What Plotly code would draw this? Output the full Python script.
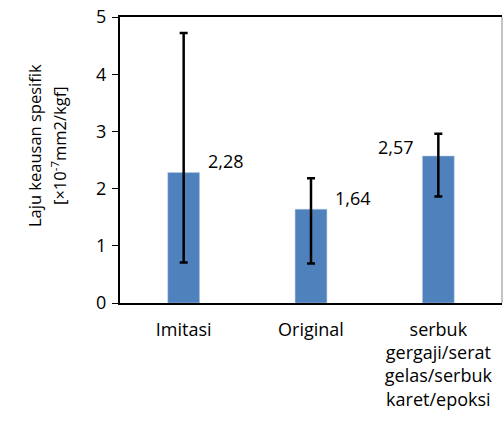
import plotly.graph_objects as go

categories = ["Imitasi", "Original", "serbuk<br>gergaji/serat<br>gelas/serbuk<br>karet/epoksi"]
values = [2.28, 1.64, 2.57]
err_plus = [2.44, 0.54, 0.39]
err_minus = [1.57, 0.95, 0.71]
value_labels = ["2,28", "1,64", "2,57"]
label_xshift = [42, 42, -42]
label_yshift = [12, 11, 9]
y_ticks = [0, 1, 2, 3, 4, 5]

FONT = "Open Sans"
fig = go.Figure()
fig.add_trace(go.Bar(
    x=categories, y=values,
    marker=dict(color="#4F81BD", line=dict(color="#B9CDE5", width=0.5)),
    width=0.25,
    error_y=dict(type="data", symmetric=False, array=err_plus, arrayminus=err_minus,
                 color="black", thickness=2.5, width=4),
    showlegend=False,
))

for c, v, t, xs, ys in zip(categories, values, value_labels, label_xshift, label_yshift):
    fig.add_annotation(x=c, y=v, text=t, showarrow=False, xshift=xs, yshift=ys,
                       font=dict(family=FONT, size=18, color="#000"))

fig.add_annotation(xref="paper", yref="paper", x=0, y=0.5, xshift=-86, yshift=14,
                   xanchor="center", yanchor="middle",
                   text="Laju keausan spesifik", textangle=-90, showarrow=False,
                   font=dict(family=FONT, size=16.5, color="#000"))
fig.add_annotation(xref="paper", yref="paper", x=0, y=0.5, xshift=-61, yshift=14,
                   xanchor="center", yanchor="middle",
                   text="[×10<sup>-7</sup>mm2/kgf]", textangle=-90, showarrow=False,
                   font=dict(family=FONT, size=16.5, color="#000"))

fig.add_shape(type="line", xref="paper", yref="paper", x0=1, x1=1, y0=0, y1=1,
              line=dict(color="#888", width=1))

fig.update_layout(
    width=503, height=432,
    margin=dict(l=120, r=1, t=17, b=129, autoexpand=False),
    paper_bgcolor="white", plot_bgcolor="white",
    font=dict(family=FONT, size=18, color="#000"),
    xaxis=dict(showline=True, linecolor="black", linewidth=2, mirror=True,
               ticks="", showgrid=False, tickfont=dict(size=18), automargin=False,
               ticklabelstandoff=9),
    yaxis=dict(range=[0, 5], tickvals=y_ticks, showline=True, linecolor="black",
               linewidth=2, ticks="outside", ticklen=6, tickwidth=1, tickcolor="black",
               showgrid=False, zeroline=False, tickfont=dict(size=18),
               ticklabelstandoff=2, ticklabeloverflow="allow", automargin=False),
)

fig.write_html("out.html", config={"displayModeBar": False},
               post_script="document.body.style.margin='0px';")
